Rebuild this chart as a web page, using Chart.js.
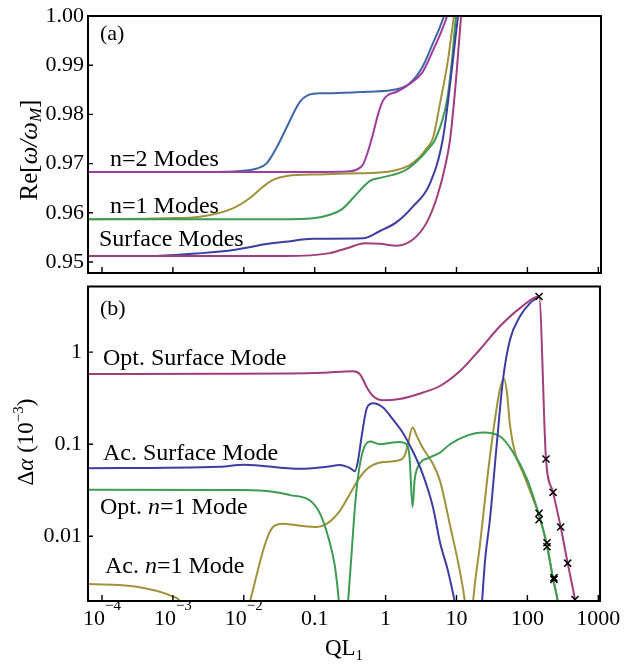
<!DOCTYPE html>
<html><head><meta charset="utf-8">
<script src="https://cdn.jsdelivr.net/npm/chart.js@4"></script>
<style>
html,body{margin:0;padding:0;background:#fff;}
#wrap{position:relative;width:633px;height:665px;overflow:hidden;}
#c1{position:absolute;left:0;top:0;}
#c2{position:absolute;left:0;top:280px;}
</style></head><body>
<div id="wrap">
<canvas id="c1" width="633" height="280"></canvas>
<canvas id="c2" width="633" height="385"></canvas>
</div>
<script>
// ---------- DATA (QL1, value) ----------
// Panel (a): Re[omega/omega_M]
const n2ModeA = [[0.00006,0.9683],[0.003,0.9683],[0.0070,0.9684],[0.0153,0.9690],[0.0212,0.9701],[0.0294,0.9734],[0.0406,0.9775],[0.0621,0.9826],[0.0805,0.9839],[0.119,0.9843],[0.181,0.9843],[0.547,0.9846],[1.43,0.9851],[2.18,0.9863],[3.32,0.9897],[4.66,0.9945],[5.85,0.9978],[6.66,1.0],[7.6,1.003]];
const n2ModeB = [[0.00006,0.9683],[0.1,0.9683],[0.286,0.9684],[0.395,0.9688],[0.480,0.9698],[0.565,0.9725],[0.664,0.9760],[0.782,0.9800],[0.919,0.9828],[1.07,0.9839],[1.43,0.9846],[2.18,0.9862],[3.32,0.9886],[4.66,0.9930],[6.24,0.9972],[7.35,1.0],[8.2,1.003]];
const n1ModeA = [[0.00006,0.9587],[0.00083,0.9589],[0.0024,0.9592],[0.0070,0.9609],[0.0122,0.9630],[0.0187,0.9653],[0.0258,0.9667],[0.0406,0.9675],[0.119,0.9678],[0.286,0.9680],[0.834,0.9682],[1.43,0.9687],[2.18,0.9697],[3.05,0.9714],[3.79,0.9731],[4.66,0.9752],[5.85,0.9822],[7.59,0.9911],[9.22,1.0],[10.5,1.005]];
const n1ModeB = [[0.00006,0.9587],[0.0324,0.9587],[0.0946,0.9589],[0.164,0.9596],[0.251,0.9609],[0.347,0.9630],[0.465,0.9650],[0.603,0.9665],[0.834,0.9671],[1.26,0.9677],[1.98,0.9688],[3.05,0.9711],[4.23,0.9734],[4.98,0.9748],[7.35,0.9829],[8.65,0.9911],[9.84,1.0],[11,1.005]];
const surfModeA = [[0.00006,0.9512],[0.0005,0.9512],[0.00257,0.9518],[0.0075,0.9525],[0.0219,0.9537],[0.0381,0.9541],[0.0946,0.9547],[0.48,0.9548],[0.834,0.9563],[1.43,0.9581],[2.40,0.9612],[4.23,0.9660],[6.45,0.9752],[8.65,0.9895],[10.5,1.0],[11.6,1.006]];
const surfModeB = [[0.00006,0.9512],[0.0381,0.9512],[0.164,0.9518],[0.286,0.9528],[0.512,0.9538],[0.834,0.9537],[1.43,0.9533],[2.40,0.9545],[3.79,0.9580],[5.31,0.9632],[6.88,0.9693],[8.10,0.9748],[9.84,0.9870],[11.6,1.0],[12.5,1.005]];

// Panel (b): Delta alpha (1e-3)
const optSurf = [[0.00006,0.58],[0.0046,0.582],[0.0449,0.585],[0.131,0.597],[0.347,0.622],[0.436,0.575],[0.547,0.411],[0.664,0.334],[0.919,0.30],[1.57,0.31],[3.32,0.363],[5.85,0.429],[11.2,0.623],[21.4,1.07],[41.0,1.91],[78.7,3.01],[146,4.03],[183,0.069],[230,0.030],[295,0.0126],[370,0.0051],[469,0.00205],[500,0.0015]];
const acSurf = [[0.00006,0.0549],[0.0046,0.057],[0.01,0.060],[0.0621,0.054],[0.149,0.057],[0.228,0.0595],[0.315,0.055],[0.370,0.051],[0.408,0.066],[0.465,0.129],[0.547,0.25],[0.664,0.278],[0.919,0.25],[1.26,0.187],[1.74,0.134],[2.40,0.085],[3.32,0.048],[4.66,0.0207],[5.85,0.0086],[7.59,0.0042],[9.5,0.0019],[10.5,0.0012],[22,0.0012],[22.9,0.0019],[25.3,0.0055],[29.7,0.0155],[37.2,0.105],[45.3,0.506],[56.9,1.37],[78.7,2.45],[109,3.41],[146,4.03]];
const optN1 = [[0.00006,0.032],[0.01,0.0318],[0.0258,0.0305],[0.0449,0.028],[0.0859,0.0245],[0.119,0.0176],[0.154,0.010],[0.193,0.0047],[0.220,0.0019],[0.23,0.0012],[0.28,0.0012],[0.295,0.0019],[0.336,0.0076],[0.370,0.021],[0.408,0.044],[0.480,0.085],[0.603,0.107],[0.834,0.100],[1.14,0.103],[1.57,0.106],[1.98,0.100],[2.18,0.072],[2.40,0.0207],[2.56,0.040],[2.83,0.056],[4.23,0.072],[5.85,0.081],[8.10,0.10],[14.1,0.124],[23.7,0.134],[41,0.122],[62.7,0.082],[98.7,0.042],[137,0.020],[151,0.0155],[189,0.008],[230,0.0035],[270,0.0019],[290,0.0012]];
const acN1 = [[0.00006,0.00303],[0.00031,0.00283],[0.001,0.00221],[0.00126,0.00195],[0.0015,0.0012],[0.0105,0.0012],[0.0122,0.00195],[0.0258,0.0126],[0.0357,0.0137],[0.0621,0.013],[0.108,0.0126],[0.149,0.0137],[0.228,0.019],[0.315,0.029],[0.436,0.044],[0.603,0.057],[0.919,0.064],[1.43,0.066],[1.85,0.075],[2.04,0.096],[2.40,0.152],[2.74,0.124],[3.32,0.092],[4.66,0.061],[5.85,0.040],[8.10,0.0132],[11.2,0.0041],[13.2,0.0019],[14,0.0012],[16.5,0.0012],[17.1,0.0019],[21.4,0.008],[27.8,0.049],[34.9,0.187],[41,0.395],[46.8,0.515],[51.5,0.363],[56.9,0.159],[66.9,0.081],[86.7,0.049],[120,0.0256],[151,0.0155],[189,0.0079],[230,0.0034],[270,0.0019],[290,0.0012]];
const optSurfMarks = [[146,4.03],[183,0.069],[230,0.030],[295,0.0126],[370,0.0051],[469,0.00205]];
const optN1Marks = [[146,0.0178],[146,0.0151],[189,0.0085],[189,0.0077],[237,0.00355],[237,0.0034]];

// ticks
const xTickVals = [1e-4,1e-3,1e-2,0.1,1,10,100,1000];
const xTickBase = ['10','10','10','0.1','1','10','100','1000'];
const xTickExp  = ['−4','−3','−2','','','','',''];
const reTickVals = [0.95,0.96,0.97,0.98,0.99,1.00];
const reTickLabels = ['0.95','0.96','0.97','0.98','0.99','1.00'];
const daTickVals = [0.01,0.1,1];
const daTickLabels = ['0.01','0.1','1'];

// ---------- STYLE ----------
const SERIF = "'Liberation Serif','Times New Roman',serif";
const F = s => s + 'px ' + SERIF;
const FI = s => 'italic ' + s + 'px ' + SERIF;
const C = {blue:'#3f66a8', purple:'#9e3d9e', olive:'#a0913c', green:'#3b9c52', dblue:'#3d3da3', crimson:'#a23d7b'};
const AN = 24; // annotation font size

function pts(a){ return a.map(p => ({x:p[0], y:p[1]})); }
function line(data, color){ return {data: pts(data), borderColor: color, backgroundColor: color, borderWidth: 2, pointRadius: 0, pointHoverRadius: 0, fill: false, cubicInterpolationMode: 'monotone'}; }
function marks(data){ return {data: pts(data), showLine: false, pointStyle: 'crossRot', pointRadius: 5, pointBorderWidth: 1.5, borderColor: '#000', backgroundColor: '#000'}; }

function drawRich(ctx, parts, x, y, align){
  let w = 0;
  for (const p of parts){ ctx.font = p.f; w += ctx.measureText(p.t).width; }
  let cx = align === 'center' ? x - w/2 : (align === 'right' ? x - w : x);
  ctx.textAlign = 'left'; ctx.textBaseline = 'alphabetic';
  for (const p of parts){ ctx.font = p.f; ctx.fillText(p.t, cx, y + (p.dy || 0)); cx += ctx.measureText(p.t).width; }
}
function frameAndTicks(chart){
  const ctx = chart.ctx, a = chart.chartArea, xs = chart.scales.x, ys = chart.scales.y;
  ctx.save();
  ctx.strokeStyle = '#000'; ctx.lineWidth = 1.4;
  ctx.beginPath();
  for (const t of xs.ticks){ const px = xs.getPixelForValue(t.value); ctx.moveTo(px, a.bottom); ctx.lineTo(px, a.bottom - 6); }
  for (const t of ys.ticks){ const py = ys.getPixelForValue(t.value); ctx.moveTo(a.left, py); ctx.lineTo(a.left + 5, py); }
  ctx.stroke();
  ctx.lineWidth = 2;
  ctx.strokeRect(a.left, a.top, a.right - a.left, a.bottom - a.top);
  ctx.restore();
}
const noPad = s => { s.paddingTop = 0; s.paddingBottom = 0; s.paddingLeft = 0; s.paddingRight = 0; };

// ---------- TOP CHART ----------
const decorTop = { id: 'decorTop', afterDraw(chart){
  const ctx = chart.ctx;
  frameAndTicks(chart);
  ctx.save(); ctx.fillStyle = '#000';
  drawRich(ctx, [{t:'(a)', f:F(22)}], 100, 40, 'left');
  drawRich(ctx, [{t:'n=2 Modes', f:F(AN)}], 110, 166, 'left');
  drawRich(ctx, [{t:'n=1 Modes', f:F(AN)}], 110, 213, 'left');
  drawRich(ctx, [{t:'Surface Modes', f:F(AN)}], 99, 246, 'left');
  ctx.translate(37, 150); ctx.rotate(-Math.PI/2);
  drawRich(ctx, [{t:'Re[', f:F(25)}, {t:'ω/ω', f:FI(25)}, {t:'M', f:FI(17), dy:4}, {t:']', f:F(25)}], 0, 0, 'center');
  ctx.restore();
}};

new Chart(document.getElementById('c1'), {
  type: 'line',
  data: { datasets: [
    line(surfModeB, C.crimson), line(surfModeA, C.dblue),
    line(n1ModeB, C.green), line(n1ModeA, C.olive),
    line(n2ModeB, C.purple), line(n2ModeA, C.blue)
  ]},
  options: {
    responsive: false, animation: false,
    layout: { padding: { left: 0, top: 16, right: 32, bottom: 0 } },
    plugins: { legend: { display: false }, tooltip: { enabled: false } },
    scales: {
      x: { type: 'logarithmic', min: 6.35e-5, max: 1091,
           afterBuildTicks: s => { s.ticks = xTickVals.map(v => ({value: v})); },
           ticks: { display: false }, grid: { display: false, drawTicks: false }, border: { display: false },
           afterFit: s => { s.height = 7; noPad(s); } },
      y: { type: 'linear', min: 0.94776, max: 1.0,
           afterBuildTicks: s => { s.ticks = reTickVals.map(v => ({value: v})); },
           ticks: { color: '#000', font: { family: SERIF, size: 22 }, padding: 4,
                    callback: (v, i) => reTickLabels[i] },
           grid: { display: false, drawTicks: false }, border: { display: false },
           afterFit: s => { s.width = 88; noPad(s); } }
    }
  },
  plugins: [decorTop]
});

// ---------- BOTTOM CHART ----------
const decorBot = { id: 'decorBot', afterDraw(chart){
  const ctx = chart.ctx, xs = chart.scales.x;
  frameAndTicks(chart);
  ctx.save(); ctx.fillStyle = '#000';
  xTickVals.forEach((v, i) => {
    const px = xs.getPixelForValue(v);
    const parts = [{t: xTickBase[i], f: F(22)}];
    if (xTickExp[i]) parts.push({t: xTickExp[i], f: F(15), dy: -15});
    drawRich(ctx, parts, px, 345, 'center');
  });
  drawRich(ctx, [{t:'QL', f:F(23)}, {t:'1', f:F(15), dy:5}], 344, 375, 'center');
  drawRich(ctx, [{t:'(b)', f:F(22)}], 100, 35, 'left');
  drawRich(ctx, [{t:'Opt. Surface Mode', f:F(AN)}], 103, 85, 'left');
  drawRich(ctx, [{t:'Ac. Surface Mode', f:F(AN)}], 103, 180, 'left');
  drawRich(ctx, [{t:'Opt. ', f:F(AN)}, {t:'n', f:FI(AN)}, {t:'=1 Mode', f:F(AN)}], 100, 234, 'left');
  drawRich(ctx, [{t:'Ac. ', f:F(AN)}, {t:'n', f:FI(AN)}, {t:'=1 Mode', f:F(AN)}], 105, 293, 'left');
  ctx.translate(33, 162); ctx.rotate(-Math.PI/2);
  drawRich(ctx, [{t:'Δ', f:F(23)}, {t:'α', f:FI(23)}, {t:' (10', f:F(23)}, {t:'−3', f:F(15), dy:-10}, {t:')', f:F(23)}], 0, 0, 'center');
  ctx.restore();
}};

new Chart(document.getElementById('c2'), {
  type: 'line',
  data: { datasets: [
    marks(optSurfMarks), marks(optN1Marks),
    line(optSurf, C.crimson), line(acSurf, C.dblue),
    line(optN1, C.green), line(acN1, C.olive)
  ]},
  options: {
    responsive: false, animation: false,
    layout: { padding: { left: 0, top: 5, right: 33, bottom: 0 } },
    plugins: { legend: { display: false }, tooltip: { enabled: false } },
    scales: {
      x: { type: 'logarithmic', min: 6.35e-5, max: 1057,
           afterBuildTicks: s => { s.ticks = xTickVals.map(v => ({value: v})); },
           ticks: { display: false }, grid: { display: false, drawTicks: false }, border: { display: false },
           afterFit: s => { s.height = 64; noPad(s); } },
      y: { type: 'logarithmic', min: 0.00198, max: 5.17,
           afterBuildTicks: s => { s.ticks = daTickVals.map(v => ({value: v})); },
           ticks: { color: '#000', font: { family: SERIF, size: 22 }, padding: 6,
                    callback: (v, i) => daTickLabels[i] },
           grid: { display: false, drawTicks: false }, border: { display: false },
           afterFit: s => { s.width = 88; noPad(s); } }
    }
  },
  plugins: [decorBot]
});
</script>
</body></html>
